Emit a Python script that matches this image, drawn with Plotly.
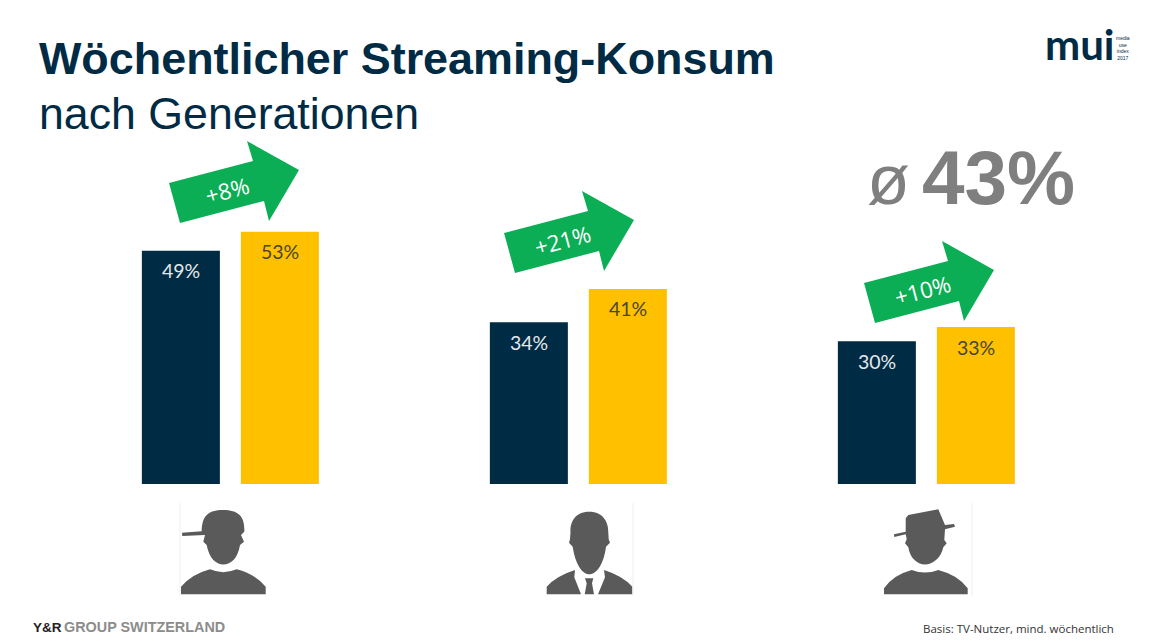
import plotly.graph_objects as go

generationen = ['Jung', 'Mittel', 'Alt']
vorher = [49, 34, 30]
nachher = [53, 41, 33]
veraenderung = ['+8%', '+21%', '+10%']
durchschnitt = '43%'

navy = '#002B45'
amber = '#FFC000'
green = '#0BAE55'
grey = '#5A5A5A'

arrow = [(169,183),(253,161),(247,141),(299,170),(269,221),(264,201),(180,223)]
arrow_moves = [(0,0),(335,50),(695,100)]

cap_man = ('M182,532.7 L201.7,531.3 C202,516 208,510 223,510 C239,510 245,517 244.3,531.7 L241,535 '
           'L244,541.7 L240,545 C238,558 231,564.5 223.3,564.5 C216,564.5 209,558 206.7,545 L203.3,541.7 L205,535 L182.3,536 Z '
           'M181,594.3 L181,586.7 Q192,574 210,569.3 Q223,575 236.7,569.3 Q255,574 265.7,586.7 L265.7,594.3 Z')
suit_man = ('M589.3,511.7 C575,511.7 570,522 570.5,532 L570,539.3 L569,542.7 L572.7,546.7 C575,563 582,574.3 589.3,574.3 '
            'C597,574.3 604,563 606,546.7 L610,542.7 L608.7,539.3 L608.3,532 C608.5,522 603,511.7 589.3,511.7 Z '
            'M546.7,594.3 L546.7,586.7 Q556,576 575,570 L574.3,577.3 L581,594.3 Z '
            'M598,594.3 L605,577.3 L604,570 Q623,576 632.3,586.7 L632.3,594.3 Z '
            'M585,578.3 L593.3,578.3 L592,583.3 L594,594.3 L584.7,594.3 L586.7,583.3 Z')
hat_man = ('M894,534.3 L905.7,531.7 L905.7,518.3 L908.3,515 L938.3,509.3 L945,525 L954,524 L955,526.7 L945,529.3 '
           'L944.3,540 L946.7,543.3 L943.3,547.3 C941,558 933,564.5 925,564.5 C917,564.5 910,558 908.3,547.3 L905,543.3 L906.7,539.3 '
           'L905.7,534.3 L894.3,537 Z '
           'M884,594.3 L884,588.3 Q893,575 911.7,570 Q925,575 938.3,570 Q958,575 967.7,588.3 L967.7,594.3 Z')
icon_edges = [180, 633, 972]

def draw_chart():
    fig = go.Figure()
    fig.add_trace(go.Bar(x=generationen, y=vorher, marker_color=navy, marker_line_width=0, showlegend=False))
    fig.add_trace(go.Bar(x=generationen, y=nachher, marker_color=amber, marker_line_width=0, showlegend=False))

    # second pair of axes counts in screen pixels, for the slide furniture
    fig.update_layout(width=1163, height=644, margin=dict(l=0,r=0,t=0,b=0), paper_bgcolor='white', plot_bgcolor='white',
                      barmode='group', bargap=0.431, bargroupgap=0.212,
                      xaxis=dict(type='category', range=[-0.662,2.68], visible=False),
                      yaxis=dict(range=[-33.6,101.7], visible=False),
                      xaxis2=dict(range=[0,1163], visible=False, overlaying='x', anchor='y2'),
                      yaxis2=dict(range=[644,0], visible=False, overlaying='y', anchor='x2'))

    shapes = []
    for dx, dy in arrow_moves:
        path = 'M' + ' L'.join(f'{x+dx},{y+dy}' for x, y in arrow) + ' Z'
        shapes.append(dict(type='path', path=path, xref='x2', yref='y2', fillcolor=green, line_width=0))
    for icon in [cap_man, suit_man, hat_man]:
        shapes.append(dict(type='path', path=icon, xref='x2', yref='y2', fillcolor=grey, line_width=0))
    for edge in icon_edges:
        shapes.append(dict(type='line', x0=edge, x1=edge, y0=503, y1=596, xref='x2', yref='y2', line=dict(color='#EFEFEF',width=1)))
    fig.update_layout(shapes=shapes)

    def label(x, y, text, size, color, font='Liberation Sans', anchor='left', angle=0, weight=None):
        fig.add_annotation(x=x, y=y, xref='x2', yref='y2', text=text, showarrow=False, xanchor=anchor, yanchor='middle',
                           textangle=angle, font=dict(family=font,size=size,color=color,weight=weight))

    label(37, 58.5, '<b>Wöchentlicher Streaming-Konsum</b>', 44.9, navy)
    label(37, 113, 'nach Generationen', 44.7, navy)
    label(865, 180, 'ø', 70, '#7F7F7F')
    label(920, 177, f'<b>{durchschnitt}</b>', 76.5, '#7F7F7F')
    label(1043, 44, '<b>mui</b>', 42, navy, font='Lato')
    label(1114, 48, 'media<br>use<br>index<br>2017', 5, navy)
    label(31, 627, '<b>Y&R</b>', 13.5, '#222222')
    label(62, 627, '<b>GROUP SWITZERLAND</b>', 14.4, '#8C8C8C')
    label(1116, 628, 'Basis: TV-Nutzer, mind. wöchentlich', 11.5, '#333333', font='Open Sans', anchor='right')

    for (dx, dy), text in zip(arrow_moves, veraenderung):
        label(227+dx, 190+dy, text, 22.5, 'white', font='Open Sans', anchor='center', angle=-15, weight=500)

    for i in range(len(generationen)):
        fig.add_annotation(x=i-0.142, y=vorher[i], yshift=-20, text=f'{vorher[i]}%', showarrow=False,
                           font=dict(family='Lato',size=19.5,color='#E4E8EA'))
        fig.add_annotation(x=i+0.142, y=nachher[i], yshift=-20, text=f'{nachher[i]}%', showarrow=False,
                           font=dict(family='Lato',size=19.5,color='#4A4632'))

    fig.write_html('out.html', config=dict(displayModeBar=False), post_script="document.body.style.margin='0';")

draw_chart()
